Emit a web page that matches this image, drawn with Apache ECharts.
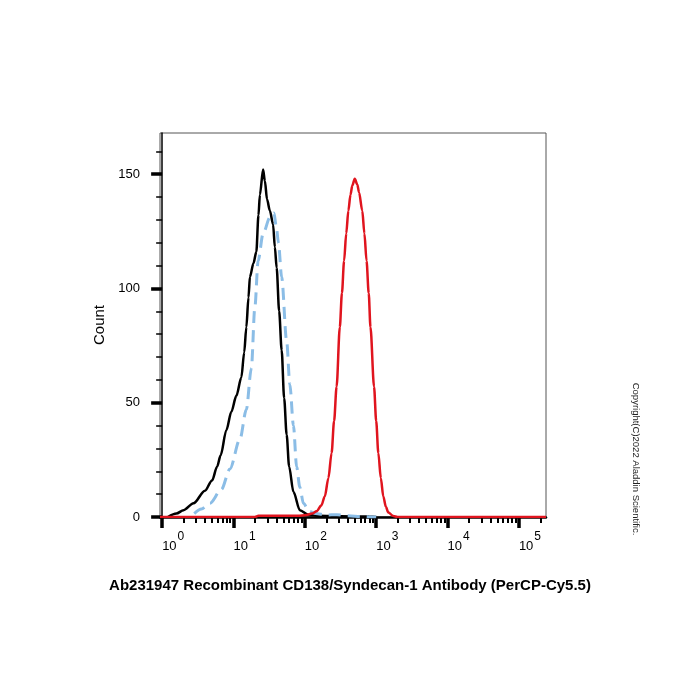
<!DOCTYPE html>
<html>
<head>
<meta charset="utf-8">
<script src="https://cdn.jsdelivr.net/npm/echarts@6/dist/echarts.min.js"></script>
<style>
  html, body { margin: 0; background: #fff; }
  #chart { width: 700px; height: 700px; }
</style>
</head>
<body>
<div id="chart"></div>
<script>
// x values are log10 of fluorescence (decade position), y is count
const decades = [0, 1, 2, 3, 4, 5];
const minorSteps = [2, 3, 4, 5, 6, 7, 8, 9];
const countMajor = [0, 50, 100, 150];
const countMinor = [10, 20, 30, 40, 60, 70, 80, 90, 110, 120, 130, 140, 160];

const blackLog = [0.08, 0.2, 0.3, 0.44, 0.6, 0.7, 0.77, 0.82, 0.9, 0.97, 1.04, 1.11, 1.15, 1.18, 1.21, 1.23, 1.28, 1.32, 1.35, 1.37, 1.415, 1.44, 1.47, 1.51, 1.555, 1.58, 1.605, 1.64, 1.675, 1.71, 1.745, 1.78, 1.84, 1.93, 2.05, 2.2, 2.5, 2.9, 3.0];
const blackCount = [0, 1.5, 3, 6, 11.5, 16, 22, 27, 38, 46, 53, 61, 72, 83, 96, 105, 111, 116, 132, 141, 152, 147, 139, 134, 128, 118, 109, 90, 73, 52, 36, 22, 11, 3, 1, 0.5, 0.3, 0.2, 0];

const isotypeLog = [0.45, 0.55, 0.67, 0.83, 0.95, 1.09, 1.18, 1.25, 1.30, 1.345, 1.415, 1.51, 1.567, 1.6, 1.63, 1.675, 1.745, 1.79, 1.84, 1.885, 1.93, 1.98, 2.06, 2.15, 2.3, 2.45, 2.6, 2.8, 3.0];
const isotypeCount = [1.5, 3.5, 6, 12, 21, 34, 47, 65, 92, 112, 124, 131, 133, 127, 120, 105, 77, 58, 40, 22, 13, 6, 2.5, 1.5, 0.9, 1, 0.5, 0.2, 0];

const stainedLog = [-0.03, 1.3, 1.35, 1.9, 2.025, 2.1, 2.165, 2.23, 2.28, 2.33, 2.375, 2.41, 2.445, 2.49, 2.52, 2.55, 2.58, 2.61, 2.64, 2.665, 2.70, 2.735, 2.76, 2.805, 2.835, 2.865, 2.895, 2.92, 2.97, 3.0, 3.03, 3.065, 3.10, 3.135, 3.17, 3.24, 3.3, 5.38];
const stainedCount = [0, 0, 0.5, 0.5, 0.9, 1.5, 2.5, 5, 9, 17, 28, 42, 57, 83, 98, 112, 124, 134, 141, 145, 148, 145.5, 142, 134, 124, 112, 98, 83, 57, 42, 28, 17, 9, 4.5, 2, 0.4, 0, 0];

const zip = (xs, ys) => xs.map((x, i) => [x, ys[i]]);

// minor log ticks 2..9 in each decade, limited to the visible range
const minorLog = [];
decades.forEach(d => minorSteps.forEach(k => minorLog.push(d + Math.log10(k))));
const xMin = -0.03;
const xMax = 5.38;
const minorVisible = minorLog.filter(v => v > xMin && v < xMax);

const font = 'Arial, "Liberation Sans", sans-serif';
const chart = echarts.init(document.getElementById('chart'));

chart.setOption({
  backgroundColor: '#fff',
  animation: false,
  title: {
    text: 'Ab231947 Recombinant CD138/Syndecan-1 Antibody (PerCP-Cy5.5)',
    left: 'center',
    top: 573,
    textStyle: { fontFamily: font, fontSize: 15, fontWeight: 'bold', color: '#000' },
  },
  graphic: [{
    type: 'text',
    x: 636,
    y: 459,
    rotation: -Math.PI / 2,
    style: {
      text: 'Copyright(C)2022 Aladdin Scientific.',
      fontFamily: font,
      fontSize: 9.5,
      fill: '#222',
      align: 'center',
      verticalAlign: 'middle',
    },
  }],
  grid: {
    left: 160, right: 154, top: 133, bottom: 183,
    show: true, borderColor: '#555', borderWidth: 1,
  },
  xAxis: [{
    type: 'value',
    min: xMin,
    max: xMax,
    splitLine: { show: false },
    axisLine: { lineStyle: { color: '#000', width: 2.5 } },
    axisTick: { customValues: decades, length: 11, lineStyle: { color: '#000', width: 3.5 } },
    axisLabel: {
      customValues: decades,
      align: 'left',
      margin: 14,
      formatter: v => '{b|10}{e|' + v + '}',
      rich: {
        b: { fontFamily: font, fontSize: 13, color: '#000' },
        e: { fontFamily: font, fontSize: 12, color: '#000', padding: [0, 0, 18, 1] },
      },
    },
  }, {
    type: 'value',
    min: xMin,
    max: xMax,
    position: 'bottom',
    splitLine: { show: false },
    axisLine: { show: false },
    axisTick: { customValues: minorVisible, length: 6, lineStyle: { color: '#000', width: 2 } },
    axisLabel: { show: false },
  }],
  yAxis: [{
    type: 'value',
    min: 0,
    max: 168,
    name: 'Count',
    nameLocation: 'middle',
    nameRotate: 90,
    nameGap: 53,
    nameTextStyle: { fontFamily: font, fontSize: 15, color: '#000' },
    splitLine: { show: false },
    axisLine: { show: true, lineStyle: { color: '#000', width: 1.5 } },
    axisTick: { customValues: countMajor, length: 11, lineStyle: { color: '#000', width: 3.5 } },
    axisLabel: { customValues: countMajor, margin: 20, fontFamily: font, fontSize: 13, color: '#000' },
  }, {
    type: 'value',
    min: 0,
    max: 168,
    position: 'left',
    splitLine: { show: false },
    axisLine: { show: false },
    axisTick: { customValues: countMinor, length: 6, lineStyle: { color: '#000', width: 1.5 } },
    axisLabel: { show: false },
  }],
  series: [{
    name: 'Unstained',
    type: 'line',
    data: zip(blackLog, blackCount),
    smooth: 0.3,
    smoothMonotone: 'x',
    symbol: 'none',
    lineStyle: { color: '#000', width: 2.5 },
  }, {
    name: 'Isotype',
    type: 'line',
    data: zip(isotypeLog, isotypeCount),
    smooth: 0.3,
    smoothMonotone: 'x',
    symbol: 'none',
    lineStyle: { color: '#8bbde6', width: 3, type: [12, 7] },
  }, {
    name: 'CD138',
    type: 'line',
    data: zip(stainedLog, stainedCount),
    smooth: 0.3,
    smoothMonotone: 'x',
    symbol: 'none',
    lineStyle: { color: '#e0141e', width: 2.5 },
  }],
});
</script>
</body>
</html>
